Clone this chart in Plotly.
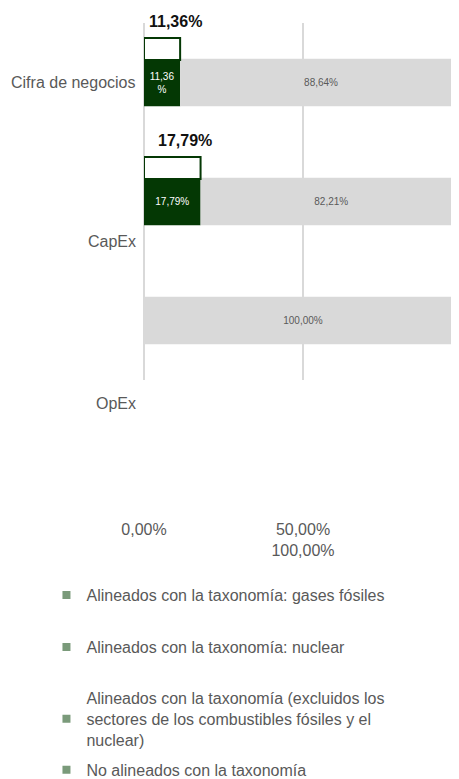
import plotly.graph_objects as go

# ---------------- data ----------------
categories = ["Cifra de negocios", "CapEx", "OpEx"]
gases_fosiles = [0.0, 0.0, 0.0]
nuclear = [0.0, 0.0, 0.0]
alineados = [11.36, 17.79, 0.0]
no_alineados = [88.64, 82.21, 100.0]
tick_values = [0, 50, 100]
tick_labels = ["0,00%", "50,00%", "100,00%"]
series_names = [
    "Alineados con la taxonomía: gases fósiles",
    "Alineados con la taxonomía: nuclear",
    "Alineados con la taxonomía (excluidos los<br>sectores de los combustibles fósiles y el<br>nuclear)",
    "No alineados con la taxonomía",
]

# ---------------- styling ----------------
FONT = "Liberation Sans, Arial, sans-serif"
DARK_GREEN = "#043804"
GREY = "#d9d9d9"
LEGEND_COLOR = "#7a9a7a"
TEXT_GREY = "#595959"


def fmt(v):
    return f"{v:.2f}".replace(".", ",") + "%"


def bar_text(v):
    if v <= 0:
        return ""
    s = fmt(v)
    if v < 15:
        s = s[:-1] + "<br>%"
    return s


base_nuclear = gases_fosiles
base_alineados = [a + b for a, b in zip(gases_fosiles, nuclear)]
total_alineado = [a + b for a, b in zip(base_alineados, alineados)]

fig = go.Figure()

common = dict(y=categories, orientation="h", width=0.4, showlegend=False,
              hoverinfo="skip", textposition="inside", textangle=0,
              insidetextanchor="middle", constraintext="none")

fig.add_trace(go.Bar(x=gases_fosiles, base=[0, 0, 0], marker=dict(color=LEGEND_COLOR, line=dict(width=0)),
                     **common))
fig.add_trace(go.Bar(x=nuclear, base=base_nuclear, marker=dict(color=LEGEND_COLOR, line=dict(width=0)),
                     **common))
fig.add_trace(go.Bar(x=alineados, base=base_alineados, marker=dict(color=DARK_GREEN, line=dict(width=0)),
                     text=[bar_text(v) for v in alineados],
                     textfont=dict(family=FONT, size=10, color="white"), **common))
fig.add_trace(go.Bar(x=no_alineados, base=total_alineado, marker=dict(color=GREY, line=dict(width=0)),
                     text=[bar_text(v) for v in no_alineados],
                     textfont=dict(family=FONT, size=10, color=TEXT_GREY), **common))

# outlined "total aligned" boxes above the bars
fig.add_trace(go.Bar(x=total_alineado, y=categories, base=[0, 0, 0], orientation="h",
                     width=0.185, offset=-0.374, showlegend=False, hoverinfo="skip",
                     marker=dict(color="white",
                                 line=dict(color=DARK_GREEN,
                                           width=[2 if v > 0 else 0 for v in total_alineado]))))

# legend entries (each in its own legend box)
legend_ids = ["legend", "legend2", "legend3", "legend4"]
for name, lid in zip(series_names, legend_ids):
    fig.add_trace(go.Scatter(x=[None], y=[None], mode="markers", name=name, legend=lid,
                             marker=dict(symbol="square", size=8, color=LEGEND_COLOR)))

# annotations: totals above the boxes
annotations = []
for i, v in enumerate(total_alineado):
    if v > 0:
        annotations.append(dict(x=v / 2, y=i - 0.5, xref="x", yref="y", text="<b>" + fmt(v) + "</b>",
                                showarrow=False, xshift=13, yshift=2,
                                font=dict(family=FONT, size=16, color="#111111")))

# category labels (placed independently of the bars, as in the reference)
label_y = [0.832, 0.389, -0.067]
for cat, yy in zip(categories, label_y):
    annotations.append(dict(x=0, y=yy, xref="paper", yref="paper", text=cat, showarrow=False,
                            xanchor="right", yanchor="middle", xshift=-6,
                            font=dict(family=FONT, size=16, color=TEXT_GREY)))

ticktext = [tick_labels[0], tick_labels[1] + "<br>" + tick_labels[2]]

legend_pos = [0.2465, 0.1797, 0.0873, 0.0219]
legend_common = dict(x=0.0838, xref="container", yref="container", xanchor="left",
                     yanchor="middle", bgcolor="rgba(0,0,0,0)",
                     font=dict(family=FONT, size=16, color=TEXT_GREY))

fig.update_layout(
    width=459, height=779,
    margin=dict(l=136, r=0, t=15, b=407, autoexpand=False),
    paper_bgcolor="white", plot_bgcolor="white",
    barmode="overlay",
    font=dict(family=FONT, size=16, color=TEXT_GREY),
    xaxis=dict(range=[0, 101.57], tickvals=tick_values[:2], ticktext=ticktext,
               showgrid=True, gridcolor=GREY, gridwidth=1.5,
               zeroline=True, zerolinecolor=GREY, zerolinewidth=1.5,
               showline=False, ticks="", ticklabelstandoff=138, automargin=False,
               tickfont=dict(family=FONT, size=16, color=TEXT_GREY), fixedrange=True),
    yaxis=dict(type="category", categoryorder="array", categoryarray=categories,
               range=[2.5, -0.5], showticklabels=False, showgrid=False, automargin=False,
               zeroline=False, showline=False, ticks="", fixedrange=True),
    annotations=annotations,
    legend=dict(y=legend_pos[0], **legend_common),
    legend2=dict(y=legend_pos[1], **legend_common),
    legend3=dict(y=legend_pos[2], **legend_common),
    legend4=dict(y=legend_pos[3], **legend_common),
)

fig.write_html("out.html")
